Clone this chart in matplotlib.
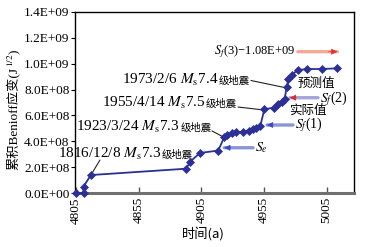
import matplotlib
matplotlib.use("Agg")
import matplotlib.pyplot as plt
from matplotlib.ticker import FuncFormatter
from matplotlib.offsetbox import TextArea, HPacker, AnnotationBbox

plt.rcParams['mathtext.fontset'] = 'stix'
SERIF = 'Liberation Serif'
CJK = 'Noto Sans CJK SC'

# time axis (year + 3000) and cumulative Benioff strain (x1e8)
years = [4805, 4811, 4811, 4816.9, 4893, 4896, 4904, 4918.5, 4923.2, 4925.5,
         4929.5, 4933, 4938, 4943, 4946.5, 4949, 4952, 4955.3, 4963, 4966.5,
         4969, 4971.5, 4973.1, 4974.5, 4977, 4982, 4989, 5001, 5013]
strain_e8 = [0, 0, 0.5, 1.39, 1.88, 2.42, 3.10, 3.28, 4.31, 4.49,
             4.62, 4.68, 4.74, 4.82, 4.93, 5.06, 5.18, 6.48, 6.60, 6.86,
             7.06, 7.30, 8.20, 8.80, 9.15, 9.50, 9.59, 9.59, 9.64]
strain = [v * 1e8 for v in strain_e8]

xticks = [4805, 4855, 4905, 4955, 5005]
yticks = [0, 2e8, 4e8, 6e8, 8e8, 1e9, 1.2e9, 1.4e9]

# quake labels: latin part, text anchor, alignment, leader start, leader end (quake point)
quakes = [
    ("1816/12/8 $M_\\mathrm{s}$7.3", (4790.6, 3.02e8), 'left', (4824.1, 2.55e8), (4816.9, 1.39e8)),
    ("1923/3/24 $M_\\mathrm{s}$7.3", (4913.0, 5.10e8), 'right', (4913.5, 4.80e8), (4923.0, 4.31e8)),
    ("1955/4/14 $M_\\mathrm{s}$7.5", (4933.3, 6.96e8), 'right', (4934.3, 6.65e8), (4955.0, 6.42e8)),
    ("1973/2/6 $M_\\mathrm{s}$7.4", (4943.6, 8.76e8), 'right', (4944.6, 8.70e8), (4973.4, 8.12e8)),
]

line_color = '#2b2f96'

fig = plt.figure(figsize=(3.66, 2.47), dpi=100)
ax = fig.add_axes([75 / 366, 1 - 193 / 247, (354 - 75) / 366, (193 - 12) / 247])

ax.plot(years, strain, color=line_color, lw=1.3, marker='D', markersize=4,
        markeredgewidth=0.5, clip_on=False, zorder=5)

ax.set_xlim(4804.2, 5026.8)
ax.set_ylim(0, 1.4e9)
ax.set_xticks(xticks)
ax.set_yticks(yticks)
ax.yaxis.set_major_formatter(FuncFormatter(lambda v, p: f"{v:.1E}"))
for lab in ax.get_xticklabels():
    lab.set_rotation(90)
ax.tick_params(axis='x', direction='in', length=4, width=1, color='#555555',
               labelsize=9.5, pad=3)
ax.tick_params(axis='y', direction='out', length=3, width=0.8, labelsize=9.5, pad=1)
for lab in ax.get_xticklabels() + ax.get_yticklabels():
    lab.set_family(SERIF)

for s in ['top', 'right', 'left']:
    ax.spines[s].set_linewidth(1.0)
    ax.spines[s].set_color('black')
ax.spines['bottom'].set_linewidth(2.2)
ax.spines['bottom'].set_color('#707070')

# quake annotations
for latin, pos, align, lead0, lead1 in quakes:
    ta1 = TextArea(latin, textprops=dict(family=SERIF, size=11, color='black'))
    ta2 = TextArea("级地震", textprops=dict(family=CJK, size=7.5, color='black'))
    pack = HPacker(children=[ta1, ta2], align='baseline', pad=0, sep=0)
    ab = AnnotationBbox(pack, pos, xycoords='data', frameon=False, pad=0,
                        box_alignment=(0 if align == 'left' else 1, 0.5),
                        annotation_clip=False)
    ax.add_artist(ab)
    ax.annotate('', xy=lead1, xytext=lead0, annotation_clip=False,
                arrowprops=dict(arrowstyle='-', color='#222222', lw=0.8,
                                shrinkA=0, shrinkB=0))


def arrow(tail, tip, shaft_color, head_color):
    ax.annotate('', xy=tip, xytext=tail, annotation_clip=False,
                arrowprops=dict(arrowstyle='-', color=shaft_color, lw=2.4,
                                shrinkA=0, shrinkB=0))
    dx = (tip[0] - tail[0]) * 0.22
    ax.annotate('', xy=tip, xytext=(tip[0] - dx, tip[1]), annotation_clip=False,
                arrowprops=dict(arrowstyle='-|>', color=head_color, lw=0.5,
                                mutation_scale=9, shrinkA=0, shrinkB=0))


arrow((4982.0, 10.93e8), (5013.5, 10.93e8), '#f4a898', '#e8302a')
arrow((4998.1, 7.37e8), (4975.7, 7.37e8), '#a4a4da', '#e02828')
arrow((4978.1, 5.26e8), (4957.4, 5.26e8), '#8c94d8', '#3848c0')
arrow((4946.2, 3.50e8), (4923.3, 3.50e8), '#8c94d8', '#3848c0')

ax.text(4979.7, 10.93e8, "$S_f$(3)\u22121.08E+09", family=SERIF, size=9,
        ha='right', va='center')
ax.text(4999.7, 7.30e8, "$S_f$(2)", family=SERIF, size=10, ha='left', va='center')
ax.text(4979.7, 5.26e8, "$S_f$(1)", family=SERIF, size=10, ha='left', va='center')
ax.text(4947.8, 3.48e8, "$S_e$", family=SERIF, size=10, ha='left', va='center')
ax.text(4996.5, 8.45e8, "预测值", family=CJK, size=9, ha='center', va='center')
ax.text(4989.7, 6.40e8, "实际值", family=CJK, size=9, ha='center', va='center')

# axis titles
fig.text(203 / 366, 1 - 235 / 247, "时间(a)", family=[CJK, SERIF], size=9.5,
         ha='center', va='center')
t1 = fig.text(18 / 366, 1 - 170 / 247, "累积Benioff应变(J", family=[SERIF, CJK],
              size=9.5, rotation=90, rotation_mode='anchor', ha='left', va='baseline')
fig.canvas.draw()
bb = t1.get_window_extent().transformed(fig.transFigure.inverted())
fig.text(18 / 366, bb.y1, "$^{1/2}$)", family=SERIF, size=9.5, rotation=90,
         rotation_mode='anchor', ha='left', va='baseline')

fig.savefig("out.png", dpi=100)
